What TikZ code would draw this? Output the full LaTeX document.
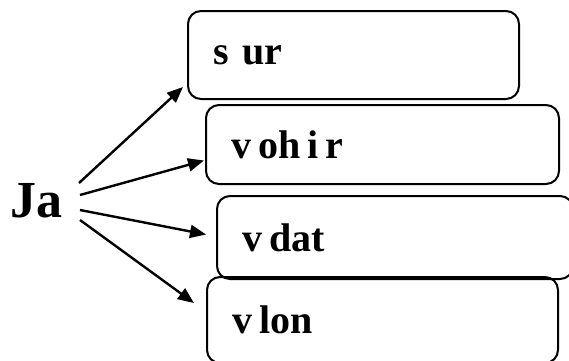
\documentclass[tikz,border=0pt]{standalone}
\usepackage{fontspec}
\setmainfont{Liberation Serif}
\usetikzlibrary{arrows.meta}
\newcommand\tightspaces{\spaceskip=7pt\relax}

\begin{document}
\begin{tikzpicture}[x=1pt,y=-1pt,line width=2pt,
        box/.style={draw,rounded corners=13pt,anchor=north west,inner xsep=25pt,inner ysep=0pt,
                    font=\fontsize{40}{44}\selectfont\bfseries,execute at begin node=\tightspaces},
        arr/.style={-{Triangle[length=16pt,width=13pt]},line width=2.4pt}]

    \useasboundingbox (0,0) rectangle (569,360);

    \node[inner sep=0pt,anchor=base west,font=\fontsize{52}{56}\selectfont\bfseries] (ja) at (9,217) {Ja};

    \node[box,text width=281pt,minimum height=88pt] (b1) at (187,10) {s~~ur};
    \node[box,text width=303pt,minimum height=79pt] (b2) at (205,104) {v oh i r};
    \node[box,text width=306pt,minimum height=83pt] (b3) at (216,195) {v dat};
    \node[box,text width=301pt,minimum height=86pt] (b4) at (206,276) {v lon};

    \coordinate (s1) at (79,183);
    \coordinate (s2) at (80,195);
    \coordinate (s3) at (80,210);
    \coordinate (s4) at (80,220);

    \draw[arr] (s1) -- ([shift={(-4,-13)}]b1.south west);
    \draw[arr] (s2) -- ([shift={(-1,16)}]b2.west);
    \draw[arr] (s3) -- ([shift={(-10,-3)}]b3.west);
    \draw[arr] (s4) -- ([shift={(-12,-17)}]b4.west);
\end{tikzpicture}
\end{document}
